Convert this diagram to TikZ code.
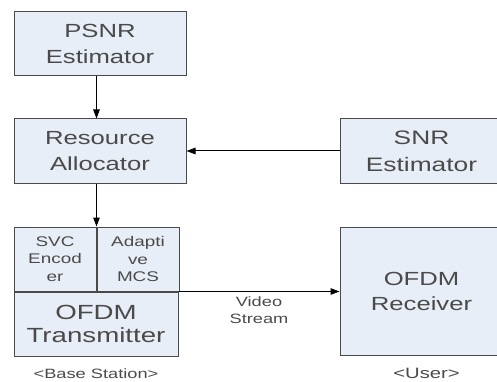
\documentclass[tikz,border=0pt]{standalone}
\usepackage{fontspec}
\usepackage{xcolor}
\usepackage{tikz}
\usetikzlibrary{
  arrows.meta,
  positioning
}

\setmainfont{Liberation Sans}
\newfontfamily\widefont{Liberation Sans}[FakeStretch=1.35]

\definecolor{boxfill}{HTML}{E8EEF7}
\definecolor{boxline}{HTML}{4A4A4A}
\definecolor{txtgray}{HTML}{4A4A4A}

\tikzset{
  block/.style={draw=boxline, fill=boxfill, line width=1pt,
    inner sep=0pt, align=center, text=txtgray},
  bigtxt/.style={font=\widefont\fontsize{19}{26}\selectfont},
  smalltxt/.style={font=\widefont\fontsize{14}{17.5}\selectfont},
  sitelabel/.style={text=txtgray, inner sep=0pt}
}

\begin{document}
\begin{tikzpicture}[x=1pt, y=-1pt, >={Stealth[length=9pt,width=6.5pt,inset=0pt]},
    line width=1pt]
  \useasboundingbox (0,0) rectangle (497,382);

  % The estimator of the video quality, top left.
  \node [block, bigtxt, minimum width=172pt, minimum height=64pt]
    (psnr) at (100,44) {PSNR\\Estimator};

  % The allocator, which is fed by both estimators.
  \node [block, bigtxt, minimum width=172pt, minimum height=64pt]
    (alloc) at (100,151) {Resource\\Allocator};

  % The channel estimator on the user side (runs off the right edge).
  \node [block, font=\widefont\fontsize{19.5}{27}\selectfont,
    minimum width=163pt, minimum height=64pt]
    (snr) at (421.5,151) {SNR\\Estimator};

  % The base station: two small boxes on top of the transmitter.
  \node [block, smalltxt, minimum width=82pt, minimum height=64pt]
    (svc) at (55,259) {SVC\\Encod\\er};
  \node [block, smalltxt, minimum width=82pt, minimum height=64pt,
    right=0pt of svc] (mcs) {Adapti\\ve\\MCS};
  \node [block, font=\widefont\fontsize{20.5}{23}\selectfont,
    minimum width=164pt, minimum height=64pt, anchor=north west]
    (tx) at (svc.south west) {OFDM\\Transmitter};

  % The receiver of the user.
  \node [block, font=\widefont\fontsize{19}{25}\selectfont,
    minimum width=163pt, minimum height=128pt]
    (rx) at (421.5,291) {OFDM\\Receiver};

  % The names of the two sides.
  \node [sitelabel, font=\widefont\fontsize{13.5}{16}\selectfont,
    below=12pt of tx] (bs) {<Base Station>};
  \node [sitelabel, font=\widefont\fontsize{15}{16}\selectfont,
    below=12pt of rx.south, xshift=5pt] (user) {<User>};

  % Arrows between the blocks.
  \draw [->] (psnr.south -| svc.north east) -- (alloc.north -| svc.north east);
  \draw [->] (alloc.south -| svc.north east) -- (svc.north east);
  \draw [->] (snr.west) -- (alloc.east);
  \draw [->] (tx.north east) -- (tx.north east -| rx.west)
    node [pos=0.5, below=5pt, inner sep=0pt, text=txtgray, align=center,
      font=\widefont\fontsize{13.5}{17}\selectfont] (video) {Video\\Stream};
\end{tikzpicture}
\end{document}
